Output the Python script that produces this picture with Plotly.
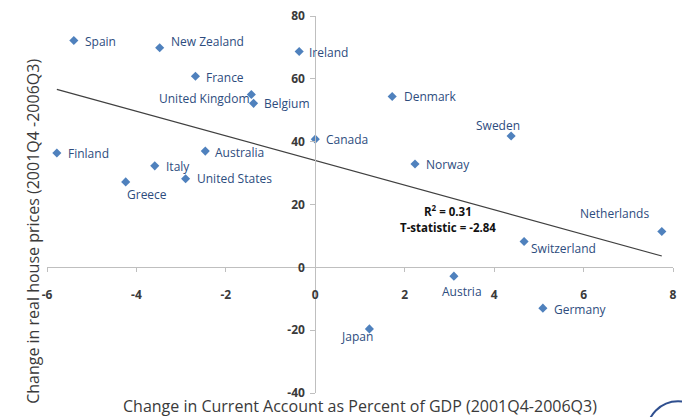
import numpy as np
import plotly.graph_objects as go

# ---- data ----
countries = ["Spain", "New Zealand", "Ireland", "France", "United Kingdom", "Belgium",
             "Canada", "Finland", "Australia", "Italy", "United States", "Greece",
             "Denmark", "Sweden", "Norway", "Netherlands", "Switzerland", "Austria",
             "Germany", "Japan"]
ca_change = [-5.40, -3.48, -0.36, -2.68, -1.43, -1.38,
             0.00, -5.78, -2.46, -3.59, -2.90, -4.24,
             1.72, 4.38, 2.23, 7.75, 4.67, 3.10,
             5.09, 1.21]
house_change = [72.2, 69.9, 68.7, 60.8, 55.0, 52.2,
                40.8, 36.4, 37.0, 32.3, 28.2, 27.2,
                54.4, 41.8, 32.9, 11.4, 8.2, -2.8,
                -13.0, -19.6]
x_ticks = [-6, -4, -2, 0, 2, 4, 6, 8]
y_ticks = [-40, -20, 0, 20, 40, 60, 80]
stats_lines = ["R<sup>2</sup> = 0.31", "T-statistic = -2.84"]

# ---- label placement (style only): xanchor, xshift px, yshift px ----
label_place = {
    "Spain": ("left", 9, -1), "New Zealand": ("left", 9, 6), "Ireland": ("left", 8, -1),
    "France": ("left", 9, -1), "United Kingdom": ("right", 1, -4), "Belgium": ("left", 8, 0),
    "Canada": ("left", 9, 0), "Finland": ("left", 9, -1), "Australia": ("left", 8, -1),
    "Italy": ("left", 9, -1), "United States": ("left", 9, 0), "Greece": ("left", -1, -13),
    "Denmark": ("left", 10, 0), "Sweden": ("center", -13, 11), "Norway": ("left", 9, -1),
    "Netherlands": ("right", -11, 18), "Switzerland": ("left", 5, -7), "Austria": ("center", 8, -15),
    "Germany": ("left", 9, -1), "Japan": ("center", -12, -8),
}

x = np.array(ca_change)
y = np.array(house_change)
slope, intercept = np.polyfit(x, y, 1)
tx = np.array([x.min(), x.max()])
ty = slope * tx + intercept

label_color = "#2D4C7E"
axis_color = "#BFBFBF"
text_dark = "#3A3A3A"
font_family = "Open Sans, Liberation Sans, sans-serif"

fig = go.Figure()
fig.add_trace(go.Scatter(x=tx, y=ty, mode="lines",
                         line=dict(color="#404040", width=1.2),
                         hoverinfo="skip", showlegend=False))
fig.add_trace(go.Scatter(x=ca_change, y=house_change, mode="markers",
                         marker=dict(symbol="diamond", size=7, color="#4F81BD"),
                         text=countries, showlegend=False))

annotations = []
for name, xv, yv in zip(countries, ca_change, house_change):
    anc, xs, ys = label_place[name]
    annotations.append(dict(x=xv, y=yv, xref="x", yref="y", text=name, showarrow=False,
                            xanchor=anc, yanchor="middle", xshift=xs, yshift=ys,
                            font=dict(family=font_family, size=12, color=label_color)))

annotations.append(dict(x=2.97, y=18.0, xref="x", yref="y", text="<b>" + stats_lines[0] + "</b>",
                        showarrow=False, xanchor="center", yanchor="middle",
                        font=dict(family=font_family, size=11.5, color="#111111")))
annotations.append(dict(x=2.97, y=12.6, xref="x", yref="y", text="<b>" + stats_lines[1] + "</b>",
                        showarrow=False, xanchor="center", yanchor="middle",
                        font=dict(family=font_family, size=11.5, color="#111111")))

annotations.append(dict(x=0.5, y=-0.035, xref="paper", yref="paper",
                        text="Change in Current Account as Percent of GDP (2001Q4-2006Q3)",
                        showarrow=False, xanchor="center", yanchor="middle",
                        font=dict(family=font_family, size=16, color=text_dark)))
annotations.append(dict(x=-0.0224, y=0.43, xref="paper", yref="paper",
                        text="Change in real house prices (2001Q4 -2006Q3)",
                        textangle=-90, showarrow=False, xanchor="center", yanchor="middle",
                        font=dict(family=font_family, size=16, color=text_dark)))

fig.update_layout(
    width=682, height=417,
    margin=dict(l=47, r=9, t=16, b=24, autoexpand=False),
    paper_bgcolor="white", plot_bgcolor="white",
    showlegend=False,
    annotations=annotations,
    shapes=[dict(type="circle", xref="paper", yref="paper",
                 x0=0.958, x1=1.058, y0=-0.19, y1=-0.022,
                 line=dict(color="#2F4F8F", width=2))],
    xaxis=dict(range=[-6, 8], tickvals=x_ticks, ticktext=[str(v) for v in x_ticks],
               showgrid=False, zeroline=False, showline=True, linecolor=axis_color, linewidth=1,
               ticks="outside", ticklen=4, tickcolor=axis_color, automargin=False,
               anchor="free", position=40 / 120, ticklabelstandoff=12,
               tickfont=dict(family=font_family, size=12, color=text_dark, weight="bold")),
    yaxis=dict(range=[-40, 80], tickvals=y_ticks, ticktext=[str(v) for v in y_ticks],
               showgrid=False, zeroline=False, showline=True, linecolor=axis_color, linewidth=1,
               ticks="outside", ticklen=5, tickcolor=axis_color, automargin=False,
               anchor="free", position=6 / 14, ticklabelstandoff=3,
               tickfont=dict(family=font_family, size=12, color=text_dark, weight="bold")),
)

fig.write_html("out.html", config={"displayModeBar": False},
               post_script="document.body.style.margin='0';document.body.style.padding='0';"
                           "document.body.style.overflow='hidden';")
